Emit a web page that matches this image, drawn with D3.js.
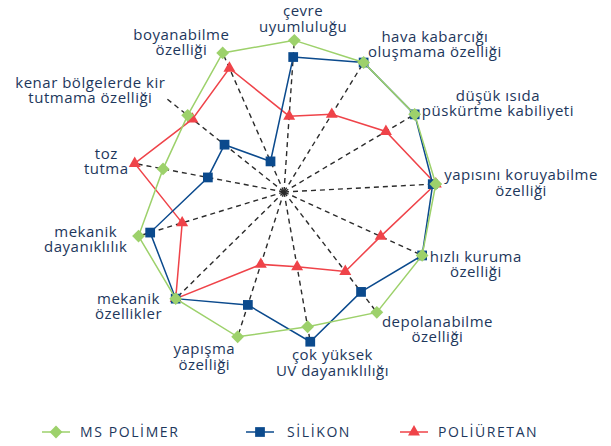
<!DOCTYPE html>
<html>
<head>
<meta charset="utf-8">
<script src="https://cdn.jsdelivr.net/npm/d3@7"></script>
<style>
  body { margin: 0; background: #fff; }
  text { font-family: "Open Sans", sans-serif; fill: #1d375c; }
</style>
</head>
<body>
<div id="svg_container"></div>
<script>
/* -----------------------
data
------------------------- */

var categories = [
	"çevre\nuyumluluğu",
	"hava kabarcığı\noluşmama özelliği",
	"düşük ısıda\npüskürtme kabiliyeti",
	"yapısını koruyabilme\nözelliği",
	"hızlı kuruma\nözelliği",
	"depolanabilme\nözelliği",
	"çok yüksek\nUV dayanıklılığı",
	"yapışma\nözelliği",
	"mekanik\nözellikler",
	"mekanik\ndayanıklılık",
	"toz\ntutma",
	"kenar bölgelerde kir\ntutmama özelliği",
	"boyanabilme\nözelliği"
];

var msPolimer  = [10, 10, 10, 10, 10, 10, 9, 10, 10, 10, 8.1, 8.1, 10];
var silikon    = [8.9, 10, 10, 9.8, 10, 8.3, 10, 7.8, 10, 9.2, 5.1, 5, 2.2];
var poliuretan = [5, 6, 7.8, 10, 7, 6.6, 5, 5, 10, 7, 10, 7.7, 8.9];

var seriesNames = ["MS POLİMER", "SİLİKON", "POLİÜRETAN"];

/* -----------------------
main variables
------------------------- */

var width = 611;
var height = 446;
var cx = 284, cy = 192;
var R = 152;
var lineH = 15.5;

var colors = { "MS POLİMER": "#9dd16b", "SİLİKON": "#0b4a8d", "POLİÜRETAN": "#ef4349" };

var svg = d3.select("#svg_container")
	.append("svg")
	.attr("width", width)
	.attr("height", height)
	.attr("viewBox", "0 0 " + width + " " + height);

var plot = svg.append("g")
	.attr("transform", "translate(" + cx + "," + cy + ")");

var rScale = d3.scaleLinear().domain([0, 10]).range([0, R]);
var offset = 3.9 * Math.PI / 180;
var aScale = d3.scaleLinear()
	.domain([0, categories.length])
	.range([offset, offset + 2 * Math.PI]);

function px(i, v) { return Math.sin(aScale(i)) * rScale(v); }
function py(i, v) { return -Math.cos(aScale(i)) * rScale(v); }

/* -----------------------
axes
------------------------- */

plot.selectAll(".axis")
	.data(categories)
	.enter()
	.append("line")
	.attr("class", "axis")
	.attr("x1", 0).attr("y1", 0)
	.attr("x2", function (d, i) { return px(i, 10); })
	.attr("y2", function (d, i) { return py(i, 10); })
	.attr("stroke", "#2b2b2b")
	.attr("stroke-width", 1.4)
	.attr("stroke-dasharray", "5,4");

/* -----------------------
labels (lines centred in their block)
------------------------- */

var labels = plot.selectAll(".label")
	.data(categories)
	.enter()
	.append("text")
	.attr("class", "label")
	.attr("text-anchor", "middle")
	.style("font-size", "15px")
	.style("letter-spacing", "0.5px");

labels.each(function (d) {
	var lines = d.split("\n");
	var t = d3.select(this);
	lines.forEach(function (l, k) {
		t.append("tspan")
			.attr("x", 0)
			.attr("y", (k - (lines.length - 1) / 2) * lineH + 5)
			.text(l);
	});
});

labels.attr("transform", function (d, i) {
	var a = aScale(i), s = Math.sin(a), c = Math.cos(a);
	var x = px(i, 10.55), y = py(i, 10.55);
	var w = 0;
	d3.select(this).selectAll("tspan").each(function () {
		w = Math.max(w, this.getComputedTextLength());
	});
	if (s > 0.3) {
		x += w / 2;
		y += -c * 13;
	} else if (s < -0.28) {
		x -= w / 2;
		if (s < -0.35) {
			x += c * 11;
			y += -c * 3;
		} else {
			y += -c * 13;
		}
	} else {
		x += s * 120;
		y += -c * 13;
	}
	return "translate(" + x + "," + y + ")";
});

/* -----------------------
series
------------------------- */

var series = [
	{ name: "POLİÜRETAN", values: poliuretan, symbol: d3.symbolTriangle, size: 62, rot: 0 },
	{ name: "SİLİKON", values: silikon, symbol: d3.symbolSquare, size: 95, rot: 0 },
	{ name: "MS POLİMER", values: msPolimer, symbol: d3.symbolSquare, size: 82, rot: 45 }
];

var line = d3.lineRadial()
	.angle(function (d, i) { return aScale(i); })
	.radius(function (d) { return rScale(d); })
	.curve(d3.curveLinearClosed);

series.forEach(function (s) {
	var g = plot.append("g").attr("class", "series");
	g.append("path")
		.attr("d", line(s.values))
		.attr("fill", "none")
		.attr("stroke", colors[s.name])
		.attr("stroke-width", 1.5);
	g.selectAll(".pt")
		.data(s.values)
		.enter()
		.append("path")
		.attr("class", "pt")
		.attr("d", d3.symbol().type(s.symbol).size(s.size))
		.attr("fill", colors[s.name])
		.attr("transform", function (d, i) {
			return "translate(" + px(i, d) + "," + py(i, d) + ") rotate(" + s.rot + ")";
		});
});

/* -----------------------
legend
------------------------- */

var legendX = { "MS POLİMER": 42, "SİLİKON": 246, "POLİÜRETAN": 400 };
var legendSym = {
	"MS POLİMER": [d3.symbolSquare, 82, 45],
	"SİLİKON": [d3.symbolSquare, 95, 0],
	"POLİÜRETAN": [d3.symbolTriangle, 62, 0]
};

var legend = svg.selectAll(".legend")
	.data(seriesNames)
	.enter()
	.append("g")
	.attr("class", "legend")
	.attr("transform", function (d) { return "translate(" + legendX[d] + ",432)"; });

legend.append("line")
	.attr("x1", 0).attr("x2", 28)
	.attr("stroke", function (d) { return colors[d]; })
	.attr("stroke-width", 1.5);

legend.append("path")
	.attr("d", function (d) { return d3.symbol().type(legendSym[d][0]).size(legendSym[d][1])(); })
	.attr("transform", function (d) { return "translate(14,0) rotate(" + legendSym[d][2] + ")"; })
	.attr("fill", function (d) { return colors[d]; });

legend.append("text")
	.attr("x", function (d) { return d === "SİLİKON" ? 41 : 38; })
	.attr("y", 5)
	.style("font-size", "14px")
	.style("letter-spacing", "1.6px")
	.text(function (d) { return d; });
</script>
</body>
</html>
